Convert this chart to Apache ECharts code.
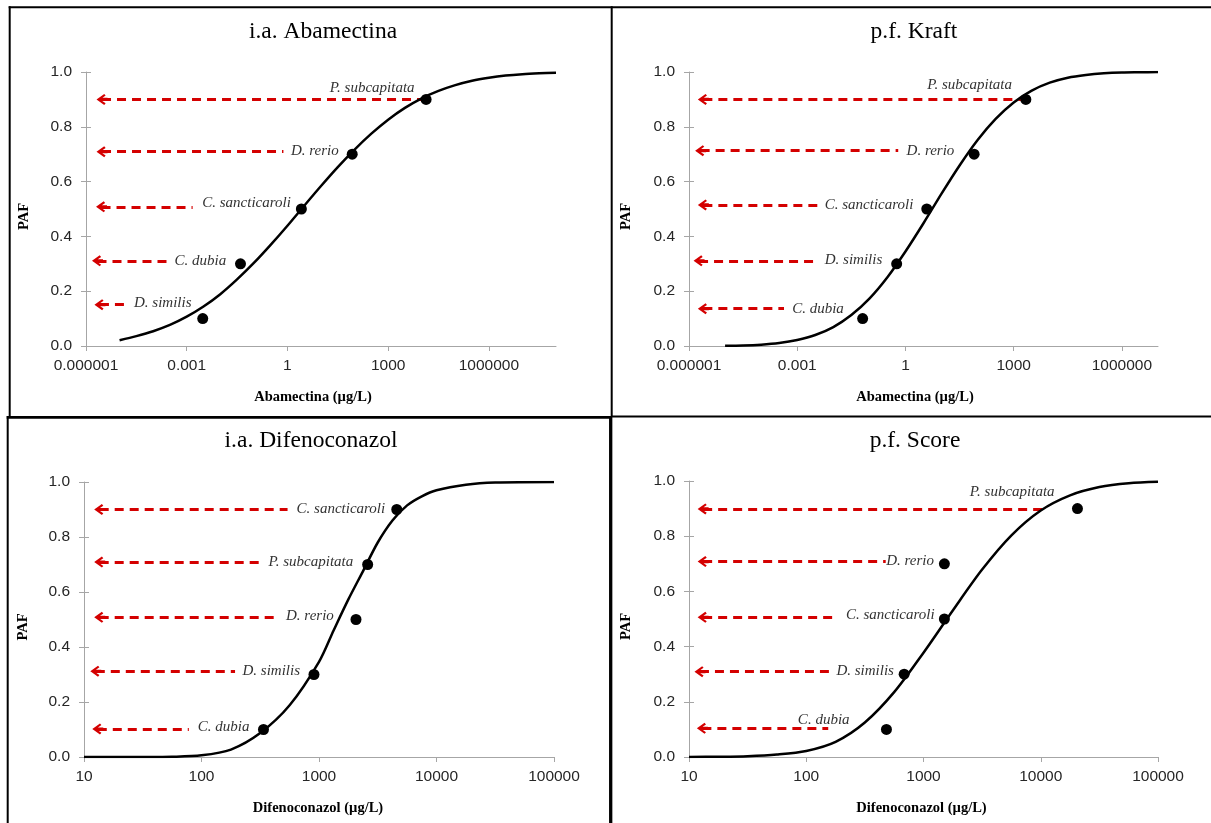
<!DOCTYPE html>
<html>
<head>
<meta charset="utf-8">
<script src="https://cdn.jsdelivr.net/npm/echarts@6.0.0/dist/echarts.min.js"></script>
<style>
html,body{margin:0;padding:0;background:#fff;}
#chart{width:1211px;height:823px;}
</style>
</head>
<body>
<div id="chart"></div>
<script>
// ---------- tick labels ----------
const topTickValues = [1e-6, 1e-3, 1, 1e3, 1e6];
const topTickLabels = ['0.000001', '0.001', '1', '1000', '1000000'];
const bottomTickValues = [10, 100, 1000, 10000, 100000];
const bottomTickLabels = ['10', '100', '1000', '10000', '100000'];
const yTickLabels = ['0.0', '0.2', '0.4', '0.6', '0.8', '1.0'];

// ---------- Panel 1: i.a. Abamectina ----------
const p1Species = ['D. similis', 'C. dubia', 'C. sancticaroli', 'D. rerio', 'P. subcapitata'];
const p1DotX = [0.003, 0.04, 2.6, 85, 13500];
const p1DotY = [0.1, 0.3, 0.5, 0.7, 0.9];
const p1ArrowY = [0.151, 0.311, 0.508, 0.709, 0.9];
const p1ArrowStart = [2.6e-6, 2.2e-6, 2.9e-6, 3.0e-6, 3.0e-6];
const p1ArrowEnd = [1.6e-5, 0.00026, 0.0015, 0.76, 10000];
const p1LabelX = [2.6e-5, 4.2e-4, 2.8e-3, 1.23, 17.7];
const p1LabelY = [0.158, 0.311, 0.521, 0.712, 0.943];
const p1CurveX = [1e-5, 3.16e-5, 1e-4, 3.16e-4, 1e-3, 3.16e-3, 0.01, 0.0316, 0.1, 0.316, 1, 3.16, 10, 31.6,
  100, 316, 1e3, 3162, 1e4, 31623, 1e5, 316228, 1e6, 3.16e6, 1e7, 3.16e7, 1e8];
const p1CurveY = [0.021, 0.036, 0.054, 0.077, 0.107, 0.144, 0.189, 0.243, 0.303, 0.369, 0.439, 0.512, 0.584, 0.653,
  0.717, 0.775, 0.826, 0.869, 0.904, 0.931, 0.952, 0.968, 0.979, 0.987, 0.992, 0.995, 0.997];

// ---------- Panel 2: p.f. Kraft ----------
const p2Species = ['C. dubia', 'D. similis', 'C. sancticaroli', 'D. rerio', 'P. subcapitata'];
const p2DotX = [0.065, 0.57, 3.9, 80, 2170];
const p2DotY = [0.1, 0.3, 0.5, 0.7, 0.9];
const p2ArrowY = [0.136, 0.311, 0.515, 0.713, 0.9];
const p2ArrowStart = [2.5e-6, 1.9e-6, 2.5e-6, 2.1e-6, 2.5e-6];
const p2ArrowEnd = [0.00043, 0.0036, 0.0036, 0.63, 1700];
const p2LabelX = [7.0e-4, 5.6e-3, 5.6e-3, 1.04, 3.9];
const p2LabelY = [0.136, 0.314, 0.515, 0.713, 0.953];
const p2CurveX = [1e-5, 3.16e-5, 1e-4, 3.16e-4, 1e-3, 3.16e-3, 0.01, 0.0316, 0.1, 0.316, 1, 3.16, 10, 31.6,
  100, 316, 1e3, 3162, 1e4, 31623, 1e5, 316228, 1e6, 3.16e6, 1e7];
const p2CurveY = [0.001, 0.002, 0.005, 0.011, 0.022, 0.040, 0.069, 0.113, 0.173, 0.251, 0.345, 0.448, 0.556, 0.659,
  0.752, 0.829, 0.889, 0.932, 0.961, 0.979, 0.989, 0.995, 0.998, 0.999, 1.0];

// ---------- Panel 3: i.a. Difenoconazol ----------
const p3Species = ['C. dubia', 'D. similis', 'D. rerio', 'P. subcapitata', 'C. sancticaroli'];
const p3DotX = [337, 906, 2065, 2595, 4590];
const p3DotY = [0.1, 0.3, 0.5, 0.7, 0.9];
const p3ArrowY = [0.102, 0.312, 0.508, 0.709, 0.9];
const p3ArrowStart = [13.1, 12.6, 13.6, 13.6, 13.6];
const p3ArrowEnd = [78, 193, 449, 316, 540];
const p3LabelX = [92, 221, 519, 368, 638];
const p3LabelY = [0.109, 0.313, 0.511, 0.709, 0.9];
const p3CurveX = [10, 31.6, 56.2, 100, 178, 316, 562, 1000, 1334, 1778, 2371, 3162, 4217, 5623, 7499, 10000,
  17783, 31623, 100000];
const p3CurveY = [0, 0.0002, 0.001, 0.006, 0.027, 0.087, 0.188, 0.346, 0.461, 0.573, 0.676, 0.78, 0.86, 0.915, 0.948, 0.97,
  0.99, 0.998, 1.0];

// ---------- Panel 4: p.f. Score ----------
const p4Species = ['C. dubia', 'D. similis', 'C. sancticaroli', 'D. rerio', 'P. subcapitata'];
const p4DotX = [483, 684, 1507, 1507, 20560];
const p4DotY = [0.1, 0.3, 0.5, 0.7, 0.9];
const p4ArrowY = [0.104, 0.309, 0.506, 0.708, 0.899];
const p4ArrowStart = [13.0, 12.4, 13.2, 13.2, 13.2];
const p4ArrowEnd = [154, 156, 179, 476, 10500];
const p4LabelX = [84, 179, 216, 476, 2460];
const p4LabelY = [0.135, 0.313, 0.516, 0.709, 0.96];
const p4CurveX = [10, 17.8, 31.6, 56.2, 100, 178, 316, 562, 1000, 1778, 3162, 5623, 10000, 17783, 31623, 56234, 100000];
const p4CurveY = [0.0003, 0.001, 0.003, 0.009, 0.022, 0.055, 0.125, 0.235, 0.378, 0.531, 0.679, 0.803, 0.893, 0.948,
  0.978, 0.992, 0.997];

// ---------- styling ----------
const RED = '#d40000';
const GRAY = '#a6a6a6';
const SERIF = 'Liberation Serif';
const SANS = 'Liberation Sans';
const ARROW = 'path://M5,0 L10,7 L8.5,8.3 L5,3.2 L1.5,8.3 L0,7 Z M3.6,2.5 L6.4,2.5 L6.4,10 L3.6,10 Z';

const panels = [
  {title: 'i.a. Abamectina', titleX: 323, titleY: 20, grid: {left: 86, top: 72, width: 470, height: 274},
   xName: 'Abamectina (µg/L)', xMin: 1e-6, xMax: 1e8, xInterval: 3, tickValues: topTickValues, tickLabels: topTickLabels,
   xNamePad: [0, 16, 0, 0], yNameGap: 54,
   species: p1Species, dotX: p1DotX, dotY: p1DotY, arrowY: p1ArrowY, arrowStart: p1ArrowStart, arrowEnd: p1ArrowEnd,
   labelX: p1LabelX, labelY: p1LabelY, curveX: p1CurveX, curveY: p1CurveY},
  {title: 'p.f. Kraft', titleX: 914, titleY: 20, grid: {left: 689, top: 72, width: 469, height: 274},
   xName: 'Abamectina (µg/L)', xMin: 1e-6, xMax: 1e7, xInterval: 3, tickValues: topTickValues, tickLabels: topTickLabels,
   xNamePad: [0, 17, 0, 0], yNameGap: 55,
   species: p2Species, dotX: p2DotX, dotY: p2DotY, arrowY: p2ArrowY, arrowStart: p2ArrowStart, arrowEnd: p2ArrowEnd,
   labelX: p2LabelX, labelY: p2LabelY, curveX: p2CurveX, curveY: p2CurveY},
  {title: 'i.a. Difenoconazol', titleX: 311, titleY: 429, grid: {left: 84, top: 482, width: 470, height: 275},
   xName: 'Difenoconazol (µg/L)', xMin: 10, xMax: 100000, xInterval: 1, tickValues: bottomTickValues, tickLabels: bottomTickLabels,
   xNamePad: [0, 2, 0, 0], yNameGap: 53,
   species: p3Species, dotX: p3DotX, dotY: p3DotY, arrowY: p3ArrowY, arrowStart: p3ArrowStart, arrowEnd: p3ArrowEnd,
   labelX: p3LabelX, labelY: p3LabelY, curveX: p3CurveX, curveY: p3CurveY},
  {title: 'p.f. Score', titleX: 915, titleY: 429, grid: {left: 689, top: 481, width: 469, height: 276},
   xName: 'Difenoconazol (µg/L)', xMin: 10, xMax: 100000, xInterval: 1, tickValues: bottomTickValues, tickLabels: bottomTickLabels,
   xNamePad: [0, 4, 0, 0], yNameGap: 55,
   species: p4Species, dotX: p4DotX, dotY: p4DotY, arrowY: p4ArrowY, arrowStart: p4ArrowStart, arrowEnd: p4ArrowEnd,
   labelX: p4LabelX, labelY: p4LabelY, curveX: p4CurveX, curveY: p4CurveY}
];

const option = {
  animation: false,
  backgroundColor: '#ffffff',
  title: [], grid: [], xAxis: [], yAxis: [], series: [],
  graphic: [
    {type: 'line', silent: true, shape: {x1: 9.7, y1: 6.3, x2: 9.7, y2: 417}, style: {stroke: '#000', lineWidth: 2}},
    {type: 'line', silent: true, shape: {x1: 8.7, y1: 7.3, x2: 1211, y2: 7.3}, style: {stroke: '#000', lineWidth: 2}},
    {type: 'line', silent: true, shape: {x1: 611.7, y1: 6.3, x2: 611.7, y2: 416.5}, style: {stroke: '#000', lineWidth: 2}},
    {type: 'line', silent: true, shape: {x1: 610.7, y1: 416, x2: 610.7, y2: 823}, style: {stroke: '#000', lineWidth: 3.3}},
    {type: 'line', silent: true, shape: {x1: 6.7, y1: 417.3, x2: 611, y2: 417.3}, style: {stroke: '#000', lineWidth: 2.7}},
    {type: 'line', silent: true, shape: {x1: 611, y1: 416.5, x2: 1211, y2: 416.5}, style: {stroke: '#000', lineWidth: 1.8}},
    {type: 'line', silent: true, shape: {x1: 7.7, y1: 416, x2: 7.7, y2: 823}, style: {stroke: '#000', lineWidth: 2}}
  ]
};

panels.forEach((p, i) => {
  option.title.push({
    text: p.title, left: p.titleX, top: p.titleY, textAlign: 'center', padding: 0,
    textStyle: {fontFamily: SERIF, fontWeight: 'normal', fontSize: 23.5, color: '#000'}
  });
  option.grid.push(Object.assign({containLabel: false}, p.grid));
  option.xAxis.push({
    type: 'log', logBase: 10, gridIndex: i, min: p.xMin, max: p.xMax, interval: p.xInterval,
    axisLine: {onZero: false, lineStyle: {color: GRAY, width: 1}},
    axisTick: {show: true, length: 5, lineStyle: {color: GRAY}, customValues: p.tickValues},
    splitLine: {show: false}, minorTick: {show: false},
    axisLabel: {
      margin: 12, fontFamily: SANS, fontSize: 15.5, color: '#262626',
      formatter: (v) => {
        const e = Math.round(Math.log10(v));
        const k = p.tickValues.findIndex(t => Math.round(Math.log10(t)) === e);
        return k >= 0 ? p.tickLabels[k] : '';
      }
    },
    name: p.xName, nameLocation: 'middle', nameGap: 44,
    nameTextStyle: {fontFamily: SERIF, fontWeight: 'bold', fontSize: 14.5, color: '#000', padding: p.xNamePad}
  });
  // main y axis (labels, line, outer ticks)
  option.yAxis.push({
    type: 'value', gridIndex: i, min: 0, max: 1, interval: 0.2, position: 'left',
    axisLine: {show: true, onZero: false, lineStyle: {color: GRAY, width: 1}},
    axisTick: {show: true, length: 5, lineStyle: {color: GRAY}},
    splitLine: {show: false},
    axisLabel: {
      margin: 14, fontFamily: SANS, fontSize: 15.5, color: '#262626',
      formatter: (v) => yTickLabels[Math.round(v / 0.2)]
    },
    name: 'PAF', nameLocation: 'middle', nameGap: p.yNameGap, nameRotate: 90,
    nameTextStyle: {fontFamily: SERIF, fontWeight: 'bold', fontSize: 14.5, color: '#000', padding: [0, 15, 0, 0]}
  });
  // secondary y axis moved onto the left edge to draw the inner half of the cross ticks
  option.yAxis.push({
    type: 'value', gridIndex: i, min: 0, max: 1, interval: 0.2, position: 'right', offset: -p.grid.width,
    axisLine: {show: false},
    axisTick: {show: true, inside: false, length: 5, lineStyle: {color: GRAY}},
    axisLabel: {show: false}, splitLine: {show: false}
  });

  option.series.push({
    type: 'line', xAxisIndex: i, yAxisIndex: 2 * i, silent: true, z: 3,
    data: p.curveX.map((x, k) => [x, p.curveY[k]]),
    smooth: 0.3, showSymbol: false, symbol: 'none',
    lineStyle: {color: '#000', width: 2.5},
    markLine: {
      silent: true, z: 1, animation: false,
      symbol: [ARROW, 'none'], symbolSize: 11,
      lineStyle: {color: RED, width: 3, type: [9, 6], opacity: 1},
      itemStyle: {color: RED},
      label: {show: false}, emphasis: {disabled: true},
      data: p.arrowY.map((y, k) => [{coord: [p.arrowStart[k], y]}, {coord: [p.arrowEnd[k], y]}])
    }
  });
  option.series.push({
    type: 'scatter', xAxisIndex: i, yAxisIndex: 2 * i, silent: true, z: 4,
    data: p.dotX.map((x, k) => [x, p.dotY[k]]),
    symbol: 'circle', symbolSize: 11, itemStyle: {color: '#000', opacity: 1}
  });
  option.series.push({
    type: 'scatter', xAxisIndex: i, yAxisIndex: 2 * i, silent: true, z: 5,
    data: p.labelX.map((x, k) => ({value: [x, p.labelY[k]], name: p.species[k]})),
    symbol: 'circle', symbolSize: 1, itemStyle: {color: 'rgba(0,0,0,0)', opacity: 1},
    label: {show: true, position: 'right', distance: 0, formatter: '{b}',
      fontFamily: SERIF, fontStyle: 'italic', fontSize: 15, color: '#333'}
  });
});

const chart = echarts.init(document.getElementById('chart'), null, {renderer: 'canvas'});
chart.setOption(option);
</script>
</body>
</html>
